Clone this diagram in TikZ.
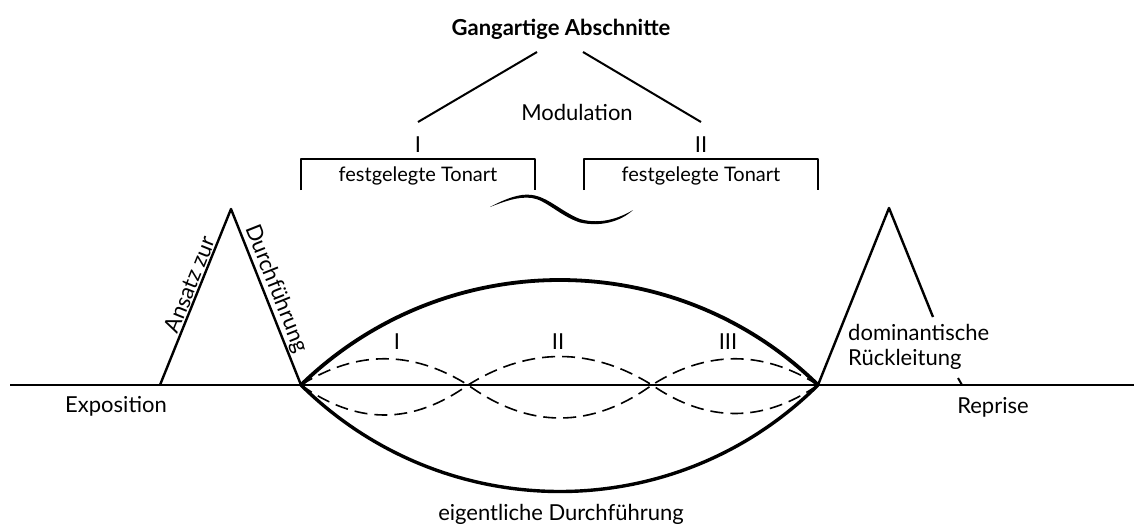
\documentclass[tikz,border=0pt]{standalone}
\usepackage{fontspec}
\setmainfont{Lato}
\usetikzlibrary{positioning}
\tikzset{
    lbl/.style={font=\fontsize{22}{25}\selectfont, inner sep=2pt},
    rom/.style={font=\fontsize{22}{25}\selectfont, inner sep=0pt},
    axisline/.style={line width=2.4pt},
    triline/.style={line width=2.4pt},
    thinline/.style={line width=2pt},
    lensarc/.style={line width=3.8pt},
    wavearc/.style={line width=1.6pt, dash pattern=on 13pt off 7pt},
}
\begin{document}
\begin{tikzpicture}[x=1pt, y=-1pt, line join=round]
    \useasboundingbox (0,0) rectangle (1134,528);
    % points on the axis
    \coordinate (axisL) at (10,385);
    \coordinate (axisR) at (1134,385);
    \coordinate (ansFoot) at (160,385);
    \coordinate (ansTop) at (231,209);
    \coordinate (lensL) at (301,385);
    \coordinate (lensR) at (818,385);
    \coordinate (crossA) at (468,385);
    \coordinate (crossB) at (652,385);
    \coordinate (domTop) at (889,208);
    \coordinate (domEnd) at (933,317);
    \coordinate (tickTop) at (958,378);
    \coordinate (tickBot) at (962,385);
    \draw[axisline] (axisL) -- (axisR);
    \node[lbl] (expo) at (116,406) {Exposition};
    \node[lbl] (repr) at (993,407) {Reprise};
    % Ansatz zur Durchfuehrung
    \draw[triline] (ansFoot) -- node[sloped, above, pos=0.55, lbl, inner sep=1pt] (ansText) {Ansatz zur} (ansTop)
        -- node[sloped, above, pos=0.48, lbl, inner sep=1pt] (durText) {Durchführung} (lensL);
    % eigentliche Durchfuehrung
    \draw[lensarc] (lensL) .. controls (445,245) and (675,245) .. (lensR);
    \draw[lensarc, line width=3.4pt] (lensL) .. controls (445,527) and (675,527) .. (lensR);
    \draw[wavearc] (lensL) .. controls (357,350) and (412,350) .. (crossA)
        .. controls (529,429) and (591,429) .. (crossB)
        .. controls (707,350) and (763,350) .. (lensR);
    \draw[wavearc] (lensL) .. controls (357,425) and (412,425) .. (crossA)
        .. controls (529,347) and (591,347) .. (crossB)
        .. controls (707,423) and (763,423) .. (lensR);
    \node[rom] (numI) at (397,342) {I};
    \node[rom] (numII) at (558,342) {II};
    \node[rom] (numIII) at (728,342) {III};
    \node[lbl] (eigText) at (561,514) {eigentliche Durchführung};
    % dominantische Rueckleitung
    \draw[triline] (lensR) -- (domTop) -- (domEnd);
    \draw[thinline] (tickTop) -- (tickBot);
    \node[lbl, align=left, anchor=west] (domText) at (846,347) {dominantische\\Rückleitung};
    % Gangartige Abschnitte
    \node[lbl, font=\fontsize{22}{25}\selectfont\bfseries] (head) at (561,29) {Gangartige Abschnitte};
    \coordinate (brLtop) at (537,52);
    \coordinate (brLbot) at (418,122);
    \coordinate (brRtop) at (583,52);
    \coordinate (brRbot) at (701,122);
    \draw[thinline] (brLtop) -- (brLbot);
    \draw[thinline] (brRtop) -- (brRbot);
    \node[lbl] (modu) at (577,112) {Modulation};
    \node[rom] (keyI) at (418,145) {I};
    \node[rom] (keyII) at (701,145) {II};
    \coordinate (boxAL) at (301,190);
    \coordinate (boxAR) at (535,190);
    \coordinate (boxBL) at (584,190);
    \coordinate (boxBR) at (818,190);
    \draw[thinline] (boxAL) -- ++(0,-31) -| (boxAR);
    \draw[thinline] (boxBL) -- ++(0,-31) -| (boxBR);
    \node[lbl, font=\fontsize{20}{25}\selectfont] (tonA) at (418,176) {festgelegte Tonart};
    \node[lbl, font=\fontsize{20}{25}\selectfont] (tonB) at (701,176) {festgelegte Tonart};
    % Modulation wave
    \fill (490,207) .. controls (505,199) and (520,193) .. (532,195)
        .. controls (548,197) and (562,212) .. (580,219)
        .. controls (600,225) and (620,218) .. (633,210)
        .. controls (620,222) and (600,227) .. (580,222.5)
        .. controls (560,216) and (546,200) .. (532,198)
        .. controls (518,196) and (503,202) .. (490,207) -- cycle;
\end{tikzpicture}
\end{document}
